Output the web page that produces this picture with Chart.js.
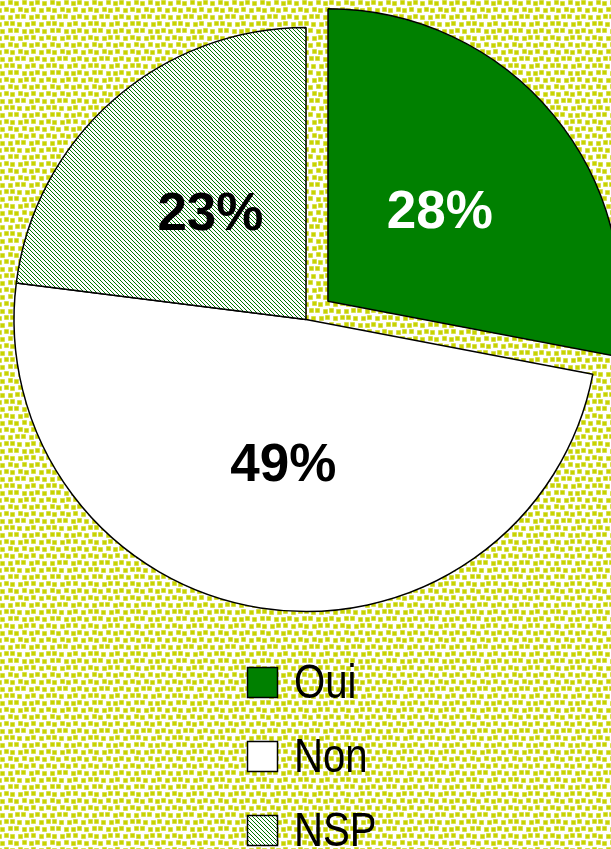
<!DOCTYPE html>
<html><head><meta charset="utf-8">
<style>html,body{margin:0;padding:0;background:#fff;overflow:hidden}#wrap{width:611px;height:849px;position:relative}canvas{display:block}</style>
<script src="https://cdn.jsdelivr.net/npm/chart.js@4/dist/chart.umd.min.js"></script>
</head><body><div id="wrap"><canvas id="c" width="611" height="849"></canvas></div>
<script>
const categories = ['Oui', 'Non', 'NSP'];
const values = [28, 49, 23];
const valueLabels = ['28%', '49%', '23%'];
const labelColors = ['#ffffff', '#000000', '#000000'];

// texture of the chart background: a dotted grid with a small fixed shift per cell
const jx = [[0,1,0,1,1,0],[1,0,1,0,0,1],[0,1,1,0,1,0],[1,0,0,1,0,1],[0,1,0,1,1,0],[1,0,1,0,0,1]];
const jy = [[1,0,1,0,1,0],[0,1,0,1,0,1],[1,1,0,0,1,0],[0,0,1,1,0,1],[1,0,0,1,1,0],[0,1,1,0,0,1]];
function makeBgPattern(ctx) {
  const C = 7, N = 6, T = C * N;
  const c = document.createElement('canvas');
  c.width = T; c.height = T;
  const g = c.getContext('2d');
  g.fillStyle = '#ffffff'; g.fillRect(0, 0, T, T);
  for (let r = 0; r < N; r++) {
    for (let q = 0; q < N; q++) {
      const x = q * C + jx[r][q] + ((r % 2) ? 3 : 0), y = r * C + jy[r][q];
      for (const dx of [0, -T, T]) for (const dy of [0, -T, T]) {
        g.fillStyle = '#e6eb9a';
        g.fillRect(x + dx, y + dy, 5, 5);
        g.fillStyle = '#c8d300';
        g.fillRect(x + dx + 0.5, y + dy + 0.5, 4, 4);
      }
    }
  }
  return ctx.createPattern(c, 'repeat');
}
function makeHatch(ctx) {
  const c = document.createElement('canvas');
  c.width = 4; c.height = 4;
  const g = c.getContext('2d');
  g.fillStyle = '#ffffff'; g.fillRect(0, 0, 4, 4);
  g.fillStyle = '#007400';
  for (let i = 0; i < 4; i++) g.fillRect(i, i, 1, 1);
  return ctx.createPattern(c, 'repeat');
}

const canvas = document.getElementById('c');
const ctx0 = canvas.getContext('2d');
const bgPattern = makeBgPattern(ctx0);
const hatch = makeHatch(ctx0);
const fills = ['#008000', '#ffffff', hatch];

const bgPlugin = {
  id: 'bg',
  beforeDraw(chart) {
    const ctx = chart.ctx;
    ctx.save();
    ctx.fillStyle = bgPattern;
    ctx.fillRect(0, 0, chart.width, chart.height);
    ctx.restore();
  }
};

const labelPlugin = {
  id: 'sliceLabels',
  afterDatasetsDraw(chart) {
    const ctx = chart.ctx;
    const meta = chart.getDatasetMeta(0);
    ctx.save();
    ctx.font = 'bold 53px "Liberation Sans", Arial, sans-serif';
    ctx.textAlign = 'center';
    ctx.textBaseline = 'alphabetic';
    meta.data.forEach((arc, i) => {
      const p = arc.getProps(['x', 'y', 'startAngle', 'endAngle', 'outerRadius', 'circumference'], true);
      const mid = (p.startAngle + p.endAngle) / 2;
      const off = (arc.options.offset || 0) / 4;
      const fix = 1 - Math.sin(Math.min(Math.PI, p.circumference || 0));
      const shift = off + off * fix;
      const r = p.outerRadius * 0.495 + shift;
      const x = p.x + Math.cos(mid) * r;
      const y = p.y + Math.sin(mid) * r;
      ctx.fillStyle = labelColors[i];
      ctx.fillText(valueLabels[i], x, y + 19);
    });
    ctx.restore();
  }
};

const legendPlugin = {
  id: 'customLegend',
  afterDraw(chart) {
    const ctx = chart.ctx;
    ctx.save();
    categories.forEach((cat, i) => {
      const bx = 247.5, by = 667.5 + i * 74, s = 30;
      ctx.fillStyle = fills[i];
      ctx.fillRect(bx, by, s, s);
      ctx.lineWidth = 1.5;
      ctx.strokeStyle = '#000';
      ctx.strokeRect(bx, by, s, s);
      ctx.save();
      ctx.translate(294, by + s + 0.5);
      ctx.scale(0.82, 1);
      ctx.fillStyle = '#000';
      ctx.font = '49px "Liberation Sans", Arial, sans-serif';
      ctx.textAlign = 'left';
      ctx.textBaseline = 'alphabetic';
      ctx.fillText(cat, 0, 0);
      ctx.restore();
    });
    ctx.restore();
  }
};

new Chart(canvas, {
  type: 'pie',
  data: {
    labels: categories,
    datasets: [{
      data: values,
      backgroundColor: fills,
      borderColor: '#000000',
      borderWidth: 1.5,
      offset: [114, 0, 0],
      hoverOffset: 0,
      radius: 292,
      clip: false
    }]
  },
  options: {
    responsive: false,
    animation: false,
    devicePixelRatio: 1,
    layout: { padding: { left: 1, right: 0, top: 0, bottom: 210 } },
    plugins: { legend: { display: false }, tooltip: { enabled: false } },
    events: []
  },
  plugins: [bgPlugin, labelPlugin, legendPlugin]
});
</script>
</body></html>
